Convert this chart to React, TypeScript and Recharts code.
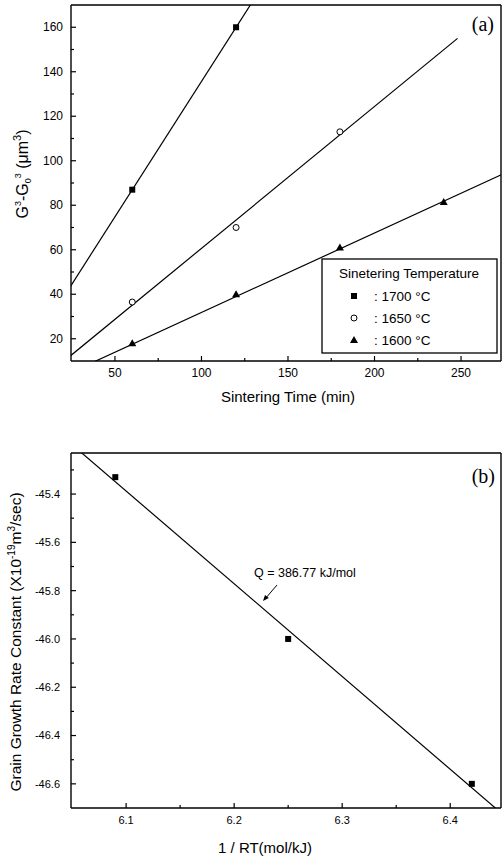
import React from "react";
import { ComposedChart, Scatter, Line, XAxis, YAxis, ReferenceLine, Customized } from "recharts";

// (a) G^3 - G0^3 vs sintering time, one series per temperature
const sinterTime = [60, 120, 180, 240];
const growth1700 = [87, 160];
const growth1650 = [36.5, 70, 113];
const growth1600 = [18, 40, 61, 81.5];

// fitted lines (end points)
const fitTime1700 = [20, 140];
const fitGrowth1700 = [38.3, 184.3];
const fitTime1650 = [20, 248];
const fitGrowth1650 = [9.6, 155];
const fitTime1600 = [30, 280];
const fitGrowth1600 = [6.8, 96.1];

const timeDomain = [24.6, 273.1];
const growthDomain = [10, 170];
const timeMajor = [50, 100, 150, 200, 250];
const timeMinor = [75, 125, 175, 225];
const growthMajor = [20, 40, 60, 80, 100, 120, 140, 160];
const growthMinor = [30, 50, 70, 90, 110, 130, 150];

// (b) Arrhenius plot
const inverseRT = [6.09, 6.25, 6.42];
const rateConstant = [-45.33, -46.0, -46.6];
const fitInverseRT = [6.04, 6.46];
const fitRate = [-45.157, -46.77];

const invDomain = [6.049, 6.447];
const rateDomain = [-46.7, -45.23];
const invMajor = [6.1, 6.2, 6.3, 6.4];
const invMinor = [6.15, 6.25, 6.35];
const rateMajor = [-45.4, -45.6, -45.8, -46.0, -46.2, -46.4, -46.6];
const rateMinor = [-45.3, -45.5, -45.7, -45.9, -46.1, -46.3, -46.5];

const FONT = "'Liberation Sans', Arial, sans-serif";
const SERIF = "'Liberation Serif', 'Times New Roman', serif";

const pts = (xs: number[], ys: number[]) => ys.map((y, i) => ({ x: xs[i], y }));

const Square = (p: any) => (
  <rect x={p.cx - 3} y={p.cy - 3} width={6} height={6} fill="#000" />
);
const OpenCircle = (p: any) => (
  <circle cx={p.cx} cy={p.cy} r={3} fill="#fff" stroke="#000" strokeWidth={1} />
);
const Triangle = (p: any) => (
  <polygon
    points={`${p.cx},${p.cy - 4} ${p.cx - 4},${p.cy + 3} ${p.cx + 4},${p.cy + 3}`}
    fill="#000"
  />
);

function makeTick(
  side: "left" | "bottom",
  major: number[],
  margin: number,
  fmt: (v: number) => string,
  fontSize: number
) {
  return (props: any) => {
    const { x, y, payload } = props;
    const v = payload.value;
    const isMajor = major.some((m) => Math.abs(m - v) < 1e-6);
    const len = isMajor ? 5 : 3;
    if (side === "left") {
      const ax = x + margin;
      return (
        <g>
          <line x1={ax} x2={ax + len} y1={y} y2={y} stroke="#000" strokeWidth={1.2} />
          {isMajor && (
            <text x={x} y={y} dy="0.35em" textAnchor="end" fontSize={fontSize} fontFamily={FONT} fill="#000">
              {fmt(v)}
            </text>
          )}
        </g>
      );
    }
    const ay = y - margin;
    return (
      <g>
        <line x1={x} x2={x} y1={ay} y2={ay - len} stroke="#000" strokeWidth={1.2} />
        {isMajor && (
          <text x={x} y={y} dy="0.71em" textAnchor="middle" fontSize={fontSize} fontFamily={FONT} fill="#000">
            {fmt(v)}
          </text>
        )}
      </g>
    );
  };
}

const axisLine = { stroke: "#000", strokeWidth: 1.4 };

const LabelsA = () => (
  <g fontFamily={FONT} fill="#000">
    <text transform="translate(28,174) rotate(-90)" textAnchor="middle" fontSize={16}>
      G<tspan fontSize={9} dy={-7}>3</tspan>
      <tspan dy={7}>-G</tspan>
      <tspan fontSize={9} dy={3}>0</tspan>
      <tspan fontSize={9} dy={-10}>3</tspan>
      <tspan dy={7}> (μm</tspan>
      <tspan fontSize={11} dy={-7}>3</tspan>
      <tspan dy={7}>)</tspan>
    </text>
    <text x={288} y={402} textAnchor="middle" fontSize={15}>
      Sintering Time (min)
    </text>
    <text x={494} y={31} textAnchor="end" fontSize={20} fontFamily={SERIF}>
      (a)
    </text>
    <rect x={322} y={259} width={175} height={94} fill="#fff" stroke="#000" strokeWidth={1.3} />
    <text x={409} y={278} textAnchor="middle" fontSize={13.5}>
      Sinetering Temperature
    </text>
    <Square cx={354} cy={296} />
    <text x={374} y={301} fontSize={13.5}>: 1700 °C</text>
    <OpenCircle cx={354} cy={318} />
    <text x={374} y={323} fontSize={13.5}>: 1650 °C</text>
    <Triangle cx={354} cy={340} />
    <text x={374} y={345} fontSize={13.5}>: 1600 °C</text>
  </g>
);

const LabelsB = () => (
  <g fontFamily={FONT} fill="#000">
    <text transform="translate(21,222) rotate(-90)" textAnchor="middle" fontSize={15.5}>
      Grain Growth Rate Constant (X10
      <tspan fontSize={10} dy={-6}>-19</tspan>
      <tspan dy={6}>m</tspan>
      <tspan fontSize={10} dy={-6}>3</tspan>
      <tspan dy={6}>/sec)</tspan>
    </text>
    <text x={265} y={433} textAnchor="middle" fontSize={15}>
      1 / RT(mol/kJ)
    </text>
    <text x={495} y={63} textAnchor="end" fontSize={20} fontFamily={SERIF}>
      (b)
    </text>
    <text x={254} y={157} fontSize={12.5}>
      Q = 386.77 kJ/mol
    </text>
    <line x1={277} y1={165} x2={265} y2={179} stroke="#000" strokeWidth={1} />
    <polygon points="263,181 268.8,178.1 265,174.9" fill="#000" />
  </g>
);

export default function App() {
  return (
    <div style={{ position: "absolute", left: 0, top: 0, width: 502, height: 859, overflow: "hidden", background: "#fff" }}>
      <div style={{ position: "absolute", left: 0, top: 0 }}>
        <ComposedChart width={502} height={420} margin={{ top: 5, right: 1, bottom: 0, left: 0 }}>
          <XAxis
            dataKey="x"
            type="number"
            domain={timeDomain}
            allowDataOverflow
            ticks={[...timeMajor, ...timeMinor].sort((a, b) => a - b)}
            interval={0}
            tickSize={0}
            tickMargin={7}
            tickLine={false}
            tick={makeTick("bottom", timeMajor, 7, (v) => String(v), 12)}
            axisLine={axisLine}
            height={59}
          />
          <YAxis
            dataKey="y"
            type="number"
            domain={growthDomain}
            allowDataOverflow
            ticks={[...growthMajor, ...growthMinor].sort((a, b) => a - b)}
            interval={0}
            tickSize={0}
            tickMargin={8}
            tickLine={false}
            tick={makeTick("left", growthMajor, 8, (v) => String(v), 12)}
            axisLine={axisLine}
            width={71}
          />
          <ReferenceLine y={growthDomain[1]} stroke="#000" strokeWidth={1.4} />
          <ReferenceLine x={timeDomain[1]} stroke="#000" strokeWidth={1.4} />
          <Line data={pts(fitTime1700, fitGrowth1700)} dataKey="y" stroke="#000" strokeWidth={1.2} dot={false} isAnimationActive={false} />
          <Line data={pts(fitTime1650, fitGrowth1650)} dataKey="y" stroke="#000" strokeWidth={1.2} dot={false} isAnimationActive={false} />
          <Line data={pts(fitTime1600, fitGrowth1600)} dataKey="y" stroke="#000" strokeWidth={1.2} dot={false} isAnimationActive={false} />
          <Scatter data={pts(sinterTime, growth1700)} shape={Square} isAnimationActive={false} />
          <Scatter data={pts(sinterTime, growth1650)} shape={OpenCircle} isAnimationActive={false} />
          <Scatter data={pts(sinterTime, growth1600)} shape={Triangle} isAnimationActive={false} />
          <Customized component={LabelsA} />
        </ComposedChart>
      </div>
      <div style={{ position: "absolute", left: 0, top: 420 }}>
        <ComposedChart width={502} height={439} margin={{ top: 33, right: 1, bottom: 0, left: 0 }}>
          <XAxis
            dataKey="x"
            type="number"
            domain={invDomain}
            allowDataOverflow
            ticks={[...invMajor, ...invMinor].sort((a, b) => a - b)}
            interval={0}
            tickSize={0}
            tickMargin={8}
            tickLine={false}
            tick={makeTick("bottom", invMajor, 8, (v) => v.toFixed(1), 11)}
            axisLine={axisLine}
            height={51}
          />
          <YAxis
            dataKey="y"
            type="number"
            domain={rateDomain}
            allowDataOverflow
            ticks={[...rateMajor, ...rateMinor].sort((a, b) => a - b)}
            interval={0}
            tickSize={0}
            tickMargin={11}
            tickLine={false}
            tick={makeTick("left", rateMajor, 11, (v) => v.toFixed(1), 11)}
            axisLine={axisLine}
            width={71}
          />
          <ReferenceLine y={rateDomain[1]} stroke="#000" strokeWidth={1.4} />
          <ReferenceLine x={invDomain[1]} stroke="#000" strokeWidth={1.4} />
          <Line data={pts(fitInverseRT, fitRate)} dataKey="y" stroke="#000" strokeWidth={1.2} dot={false} isAnimationActive={false} />
          <Scatter data={pts(inverseRT, rateConstant)} shape={Square} isAnimationActive={false} />
          <Customized component={LabelsB} />
        </ComposedChart>
      </div>
    </div>
  );
}
